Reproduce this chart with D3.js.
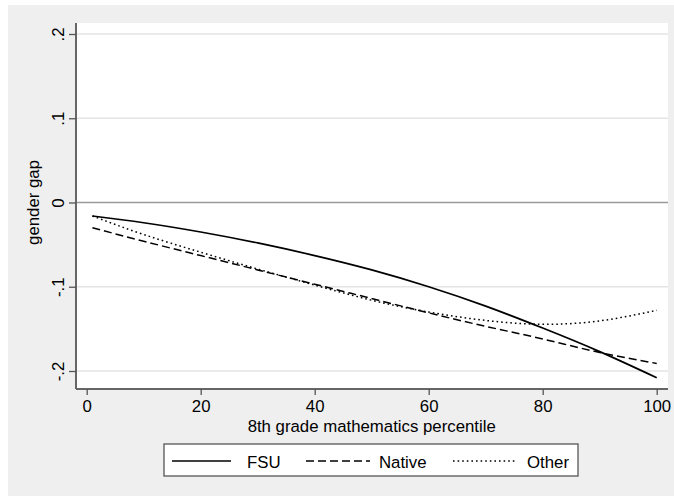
<!DOCTYPE html>
<html>
<head>
<meta charset="utf-8">
<script src="https://cdn.jsdelivr.net/npm/d3@7"></script>
<style>
  body { margin: 0; background: #fff; }
  svg text { font-family: "Liberation Sans", Arial, sans-serif; fill: #000; }
</style>
</head>
<body>
<div id="chart"></div>
<script>
const width = 674, height = 496;

// percentile points along the x axis
const pct = [1, 10, 20, 30, 40, 50, 60, 70, 80, 90, 100];
const fsu = [-0.016, -0.024, -0.035, -0.048, -0.063, -0.080, -0.100, -0.123, -0.149, -0.177, -0.208];
const native = [-0.030, -0.046, -0.063, -0.080, -0.097, -0.114, -0.131, -0.147, -0.162, -0.178, -0.191];
const other = [-0.016, -0.038, -0.059, -0.079, -0.098, -0.116, -0.130, -0.140, -0.1445, -0.1405, -0.128];

const xTicks = [0, 20, 40, 60, 80, 100];
const yTicks = [0.2, 0.1, 0, -0.1, -0.2];
const yTickLabels = [".2", ".1", "0", "-.1", "-.2"];

const seriesNames = ["FSU", "Native", "Other"];
const dashes = [null, "8,4", "1.6,3"];

const plot = { left: 76, top: 23, right: 668, bottom: 389 };

const x = d3.scaleLinear().domain([0, 100]).range([86.7, 656.7]);
const y = d3.scaleLinear().domain([-0.2, 0.2]).range([371, 34]);

const svg = d3.select("#chart").append("svg")
  .attr("width", width)
  .attr("height", height);

// outer gray background
svg.append("rect")
  .attr("x", 8).attr("y", 5)
  .attr("width", width - 8).attr("height", height - 5)
  .attr("fill", "#efefef");

// plot region
svg.append("rect")
  .attr("x", plot.left).attr("y", plot.top)
  .attr("width", plot.right - plot.left).attr("height", plot.bottom - plot.top)
  .attr("fill", "#fff");

// gridlines
svg.append("g").selectAll("line")
  .data(yTicks.filter(d => d !== 0))
  .enter().append("line")
  .attr("x1", plot.left).attr("x2", plot.right)
  .attr("y1", d => y(d)).attr("y2", d => y(d))
  .attr("stroke", "#e4e4e4")
  .attr("stroke-width", 1.3);

// zero reference line
svg.append("line")
  .attr("x1", plot.left).attr("x2", plot.right)
  .attr("y1", y(0)).attr("y2", y(0))
  .attr("stroke", "#9a9a9a")
  .attr("stroke-width", 1.5);

// series lines
const data = [fsu, native, other];
const line = d3.line()
  .x((d, i) => x(pct[i]))
  .y(d => y(d))
  .curve(d3.curveNatural);

svg.append("g").selectAll("path")
  .data(data)
  .enter().append("path")
  .attr("d", d => line(d))
  .attr("fill", "none")
  .attr("stroke", "#000")
  .attr("stroke-width", (d, i) => i === 0 ? 1.7 : 1.5)
  .attr("stroke-dasharray", (d, i) => dashes[i]);

// x axis
const xAxis = svg.append("g")
  .attr("transform", "translate(0," + plot.bottom + ")")
  .call(d3.axisBottom(x).tickValues(xTicks).tickSize(6).tickPadding(5).tickSizeOuter(0));
xAxis.select(".domain").attr("d", "M" + plot.left + ",0H" + plot.right)
  .attr("stroke", "#666").attr("stroke-width", 2);
xAxis.selectAll(".tick line").attr("stroke", "#555").attr("stroke-width", 1.3);
xAxis.selectAll(".tick text").style("font-size", "16.8px");

// y axis
const yAxis = svg.append("g")
  .attr("transform", "translate(" + plot.left + ",0)")
  .call(d3.axisLeft(y).tickValues(yTicks)
    .tickFormat((d, i) => yTickLabels[i]).tickSize(7).tickSizeOuter(0));
yAxis.select(".domain").attr("d", "M0," + plot.top + "V" + plot.bottom)
  .attr("stroke", "#666").attr("stroke-width", 2);
yAxis.selectAll(".tick line").attr("stroke", "#555").attr("stroke-width", 1.3);
yAxis.selectAll(".tick text")
  .style("font-size", "16.8px")
  .attr("x", null).attr("dy", null)
  .attr("text-anchor", "middle")
  .attr("transform", "translate(-12,0) rotate(-90)");

// axis titles
svg.append("text")
  .attr("x", (x(0) + x(100)) / 2)
  .attr("y", 432)
  .attr("text-anchor", "middle")
  .style("font-size", "16.8px")
  .text("8th grade mathematics percentile");

svg.append("text")
  .attr("transform", "translate(39," + y(0) + ") rotate(-90)")
  .attr("text-anchor", "middle")
  .style("font-size", "16.8px")
  .text("gender gap");

// legend
const legend = svg.append("g");
legend.append("rect")
  .attr("x", 164).attr("y", 444)
  .attr("width", 414).attr("height", 32)
  .attr("fill", "#fff")
  .attr("stroke", "#555")
  .attr("stroke-width", 1.3);

const legendItems = [
  { x1: 172, x2: 231, tx: 247 },
  { x1: 306, x2: 370, tx: 379 },
  { x1: 453, x2: 515, tx: 527 }
];

legend.selectAll("line")
  .data(legendItems)
  .enter().append("line")
  .attr("x1", d => d.x1).attr("x2", d => d.x2)
  .attr("y1", 461).attr("y2", 461)
  .attr("stroke", "#000")
  .attr("stroke-width", (d, i) => i === 0 ? 1.7 : 1.5)
  .attr("stroke-dasharray", (d, i) => dashes[i]);

legend.selectAll("text")
  .data(legendItems)
  .enter().append("text")
  .attr("x", d => d.tx)
  .attr("y", 467.5)
  .style("font-size", "16.8px")
  .text((d, i) => seriesNames[i]);
</script>
</body>
</html>
